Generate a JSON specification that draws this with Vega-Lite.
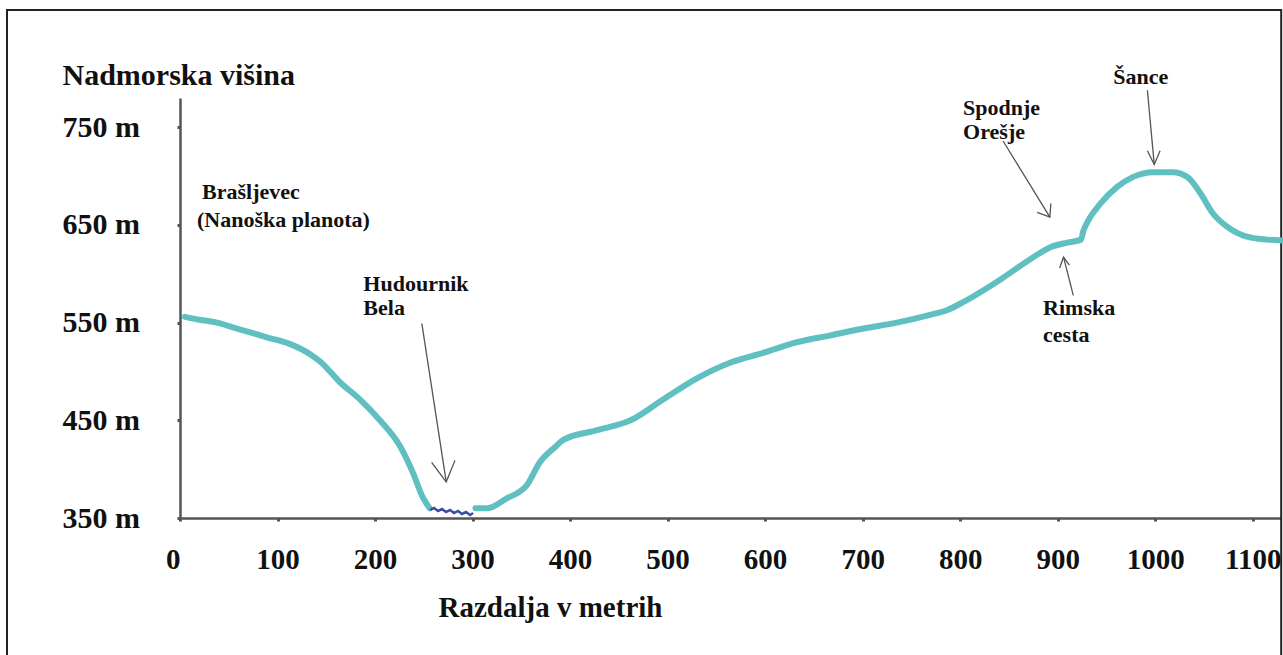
{
  "$schema": "https://vega.github.io/schema/vega-lite/v6.json",
  "width": 1101,
  "height": 420,
  "autosize": "none",
  "padding": {"left": 180, "top": 98, "right": 2, "bottom": 137},
  "background": "white",
  "config": {"view": {"stroke": null}, "font": "Liberation Serif"},
  "datasets": {
    "profile": [
      {"x": 5, "y": 556, "seg": "a"}, {"x": 20, "y": 553, "seg": "a"}, {"x": 38, "y": 550, "seg": "a"},
      {"x": 55, "y": 545, "seg": "a"}, {"x": 72, "y": 540, "seg": "a"}, {"x": 89, "y": 535, "seg": "a"},
      {"x": 113, "y": 528, "seg": "a"}, {"x": 133, "y": 518, "seg": "a"}, {"x": 144, "y": 510, "seg": "a"},
      {"x": 164, "y": 489, "seg": "a"}, {"x": 185, "y": 471, "seg": "a"}, {"x": 205, "y": 450, "seg": "a"},
      {"x": 226, "y": 423, "seg": "a"}, {"x": 239, "y": 396, "seg": "a"}, {"x": 249, "y": 371, "seg": "a"},
      {"x": 256, "y": 360, "seg": "a"},
      {"x": 303, "y": 360, "seg": "b"}, {"x": 315, "y": 360, "seg": "b"}, {"x": 335, "y": 370, "seg": "b"},
      {"x": 356, "y": 384, "seg": "b"}, {"x": 369, "y": 407, "seg": "b"}, {"x": 385, "y": 423, "seg": "b"},
      {"x": 393, "y": 430, "seg": "b"}, {"x": 428, "y": 440, "seg": "b"}, {"x": 462, "y": 450, "seg": "b"},
      {"x": 495, "y": 471, "seg": "b"}, {"x": 530, "y": 493, "seg": "b"}, {"x": 564, "y": 509, "seg": "b"},
      {"x": 598, "y": 519, "seg": "b"}, {"x": 633, "y": 530, "seg": "b"}, {"x": 667, "y": 537, "seg": "b"},
      {"x": 701, "y": 544, "seg": "b"}, {"x": 735, "y": 550, "seg": "b"}, {"x": 769, "y": 558, "seg": "b"},
      {"x": 787, "y": 563, "seg": "b"}, {"x": 803, "y": 571, "seg": "b"}, {"x": 841, "y": 594, "seg": "b"},
      {"x": 875, "y": 617, "seg": "b"}, {"x": 892, "y": 627, "seg": "b"}, {"x": 910, "y": 632, "seg": "b"},
      {"x": 924, "y": 635, "seg": "b"}, {"x": 926, "y": 643, "seg": "b"}, {"x": 930, "y": 652, "seg": "b"},
      {"x": 944, "y": 672, "seg": "b"}, {"x": 961, "y": 689, "seg": "b"}, {"x": 977, "y": 699, "seg": "b"},
      {"x": 998, "y": 704, "seg": "b"}, {"x": 1018, "y": 704, "seg": "b"}, {"x": 1033, "y": 699, "seg": "b"},
      {"x": 1046, "y": 683, "seg": "b"}, {"x": 1059, "y": 662, "seg": "b"}, {"x": 1074, "y": 648, "seg": "b"},
      {"x": 1094, "y": 638, "seg": "b"}, {"x": 1115, "y": 635, "seg": "b"}, {"x": 1130, "y": 634, "seg": "b"}
    ],
    "river": [
      {"x": 256.4, "y": 358.2}, {"x": 260.5, "y": 360.2}, {"x": 264.6, "y": 357.2}, {"x": 268.7, "y": 359.2},
      {"x": 272.8, "y": 356.1}, {"x": 276.9, "y": 358.2}, {"x": 281.0, "y": 355.1}, {"x": 285.1, "y": 357.2},
      {"x": 289.2, "y": 354.1}, {"x": 293.3, "y": 356.1}, {"x": 297.4, "y": 353.1}, {"x": 300.5, "y": 355.1}
    ],
    "arrows": [
      {"id": "a1s", "ord": 1, "x": 248, "y": 549}, {"id": "a1s", "ord": 2, "x": 273, "y": 387},
      {"id": "a1h", "ord": 1, "x": 258, "y": 407}, {"id": "a1h", "ord": 2, "x": 273, "y": 387}, {"id": "a1h", "ord": 3, "x": 282, "y": 409},
      {"id": "a2s", "ord": 1, "x": 844, "y": 736}, {"id": "a2s", "ord": 2, "x": 892, "y": 658},
      {"id": "a2h", "ord": 1, "x": 879, "y": 663}, {"id": "a2h", "ord": 2, "x": 892, "y": 658}, {"id": "a2h", "ord": 3, "x": 893, "y": 672},
      {"id": "a3s", "ord": 1, "x": 916, "y": 578}, {"id": "a3s", "ord": 2, "x": 906, "y": 617},
      {"id": "a3h", "ord": 1, "x": 902, "y": 606}, {"id": "a3h", "ord": 2, "x": 906, "y": 617}, {"id": "a3h", "ord": 3, "x": 912, "y": 609},
      {"id": "a4s", "ord": 1, "x": 992, "y": 788}, {"id": "a4s", "ord": 2, "x": 999, "y": 712},
      {"id": "a4h", "ord": 1, "x": 992, "y": 726}, {"id": "a4h", "ord": 2, "x": 999, "y": 712}, {"id": "a4h", "ord": 3, "x": 1005, "y": 726}
    ],
    "labels": [
      {"x": 22.6, "y": 684, "label": "Brašljevec"},
      {"x": 17.4, "y": 655, "label": "(Nanoška planota)"},
      {"x": 188, "y": 590, "label": "Hudournik"},
      {"x": 188, "y": 565, "label": "Bela"},
      {"x": 803, "y": 770, "label": "Spodnje"},
      {"x": 803, "y": 745, "label": "Orešje"},
      {"x": 885, "y": 565, "label": "Rimska"},
      {"x": 885, "y": 537, "label": "cesta"},
      {"x": 957, "y": 801, "label": "Šance"}
    ],
    "frame": [{"x": -177.4, "x2": 1129.2, "y": 204.7, "y2": 870}]
  },
  "encoding": {
    "x": {"field": "x", "type": "quantitative",
      "scale": {"domain": [0, 1129], "nice": false, "zero": false},
      "axis": {"values": [0, 100, 200, 300, 400, 500, 600, 700, 800, 900, 1000, 1100], "format": "d",
        "title": "Razdalja v metrih", "grid": false,
        "domainColor": "#555", "domainWidth": 2.5, "tickColor": "#555", "tickSize": 3, "tickWidth": 3,
        "labelFont": "Liberation Serif", "labelFontWeight": "bold", "labelFontSize": 29, "labelColor": "#111",
        "labelPadding": 38, "labelBaseline": "middle", "labelFlush": false, "labelOverlap": false,
        "labelAlign": {"expr": "datum.value == 0 ? 'right' : 'center'"},
        "titleFont": "Liberation Serif", "titleFontWeight": "bold", "titleFontSize": 29, "titleColor": "#111",
        "titleX": 370, "titleY": 89, "titleBaseline": "middle", "titleAlign": "center"}},
    "y": {"field": "y", "type": "quantitative",
      "scale": {"domain": [350, 780], "nice": false, "zero": false},
      "axis": {"values": [350, 450, 550, 650, 750], "labelExpr": "datum.value + ' m'",
        "title": "Nadmorska višina", "grid": false,
        "domainColor": "#555", "domainWidth": 2.5, "tickColor": "#555", "tickSize": 3, "tickWidth": 3,
        "labelFont": "Liberation Serif", "labelFontWeight": "bold", "labelFontSize": 30, "labelColor": "#111",
        "labelAlign": "left", "labelPadding": 115, "labelBaseline": "middle",
        "titleFont": "Liberation Serif", "titleFontWeight": "bold", "titleFontSize": 30, "titleColor": "#111",
        "titleAngle": 0, "titleAlign": "left", "titleX": -118, "titleY": -23, "titleBaseline": "middle"}}
  },
  "layer": [
    {
      "data": {"name": "frame"},
      "mark": {"type": "rect", "filled": false, "stroke": "#222", "strokeWidth": 2},
      "encoding": {"x2": {"field": "x2"}, "y2": {"field": "y2"}}
    },
    {
      "data": {"name": "profile"},
      "mark": {"type": "line", "color": "#5fbfc1", "strokeWidth": 6, "interpolate": "monotone", "strokeCap": "round", "strokeJoin": "round"},
      "encoding": {"detail": {"field": "seg"}}
    },
    {
      "data": {"name": "river"},
      "mark": {"type": "line", "color": "#3b4f9e", "strokeWidth": 2.5},
      "encoding": {}
    },
    {
      "data": {"name": "arrows"},
      "mark": {"type": "line", "color": "#555", "strokeWidth": 1.3},
      "encoding": {"detail": {"field": "id"}, "order": {"field": "ord", "type": "quantitative"}}
    },
    {
      "data": {"name": "labels"},
      "mark": {"type": "text", "align": "left", "baseline": "middle", "font": "Liberation Serif", "fontWeight": "bold", "fontSize": 22, "color": "#111"},
      "encoding": {"text": {"field": "label"}}
    }
  ]
}
